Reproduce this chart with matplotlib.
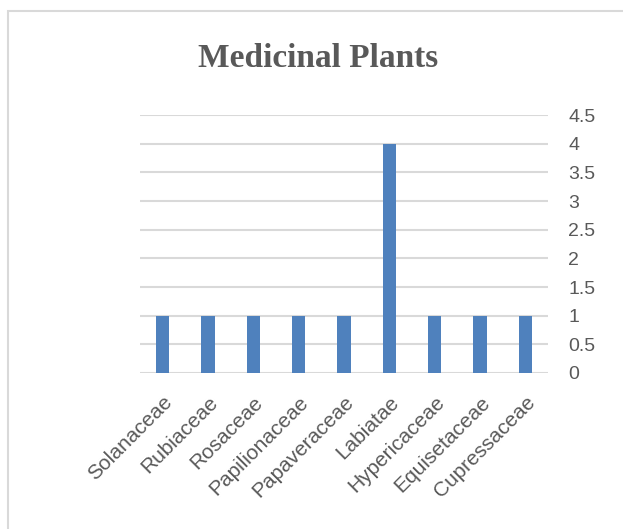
import matplotlib.pyplot as plt
from matplotlib.patches import Rectangle

families = ["Solanaceae", "Rubiaceae", "Rosaceae", "Papilionaceae", "Papaveraceae",
            "Labiatae", "Hypericaceae", "Equisetaceae", "Cupressaceae"]
counts = [1, 1, 1, 1, 1, 4, 1, 1, 1]
yticks = [0, 0.5, 1, 1.5, 2, 2.5, 3, 3.5, 4, 4.5]
ytick_labels = ["0", "0.5", "1", "1.5", "2", "2.5", "3", "3.5", "4", "4.5"]

label_font = ["Liberation Sans", "DejaVu Sans"]

fig = plt.figure(figsize=(6.23, 5.29), dpi=100)
ax = fig.add_axes([0.2247, 0.2949, 0.655, 0.4877])

ax.bar(range(len(families)), counts, width=0.29, color="#4F81BD", zorder=3)

ax.set_xlim(-0.5, len(families) - 0.5)
ax.set_ylim(0, 4.5)
ax.set_yticks(yticks)
ax.set_yticklabels(ytick_labels)
ax.yaxis.tick_right()
ax.grid(axis="y", color="#D9D9D9", linewidth=1.5, zorder=0)
ax.tick_params(length=0, colors="#595959")
ax.tick_params(axis="y", pad=14.5)
for s in ax.spines.values():
    s.set_visible(False)

ax.set_xticks(range(len(families)))
ax.set_xticklabels(families, rotation=45, ha="right", rotation_mode="anchor")
for lbl in ax.get_yticklabels():
    lbl.set_family(label_font)
    lbl.set_fontsize(14)
    lbl.set_color("#595959")
for lbl in ax.get_xticklabels():
    lbl.set_family(label_font)
    lbl.set_fontsize(15)
    lbl.set_color("#595959")
ax.tick_params(axis="x", pad=14)

fig.text(0.51, 0.89, "Medicinal Plants", ha="center", va="center",
         family=["Liberation Serif", "DejaVu Serif"], fontweight="bold",
         fontsize=24, color="#595959")

# chart frame
fig.patches.append(Rectangle((8 / 623, -0.1), 1.0, 1.1 - 11 / 529,
                             transform=fig.transFigure, fill=False,
                             edgecolor="#D9D9D9", linewidth=1.5))

fig.savefig("out.png", dpi=100)
